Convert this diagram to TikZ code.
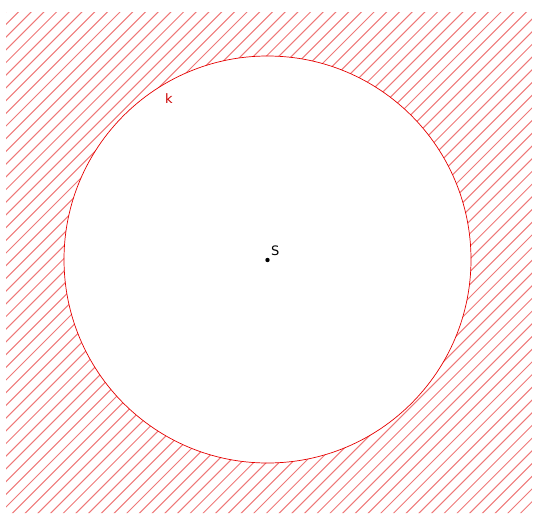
\documentclass[tikz,border=0pt]{standalone}
\usepackage{fontspec}
\setmainfont{DejaVu Sans}
\definecolor{hatchred}{RGB}{238,120,120}
\begin{document}
\begin{tikzpicture}[x=1pt,y=-1pt,
  hatch/.style={draw=hatchred,line width=1pt},
  circ/.style={draw=red!90!black,line width=0.7pt},
  lbl/.style={font=\fontsize{13}{15}\selectfont,inner sep=0pt}]
\useasboundingbox (0,0) rectangle (533,514);
\begin{scope}[even odd rule]
  \clip (6,12) rectangle (532,513) (267.5,259.5) circle[radius=203.5];
  \foreach \s in {5,17.7,...,1060}{
    \draw[hatch] (\s-520,520) -- (\s,0);
  }
\end{scope}
\node[circle,circ,minimum size=407pt,inner sep=0pt] (k) at (267.5,259.5) {};
\fill (267.5,260) circle[radius=2.2];
\coordinate (S) at (267.5,260);
\node[lbl,anchor=south west] (Slbl) at (271,256) {S};
\node[lbl,text=red!80!black,anchor=south west] (klbl) at (165,104) {k};
\end{tikzpicture}
\end{document}
